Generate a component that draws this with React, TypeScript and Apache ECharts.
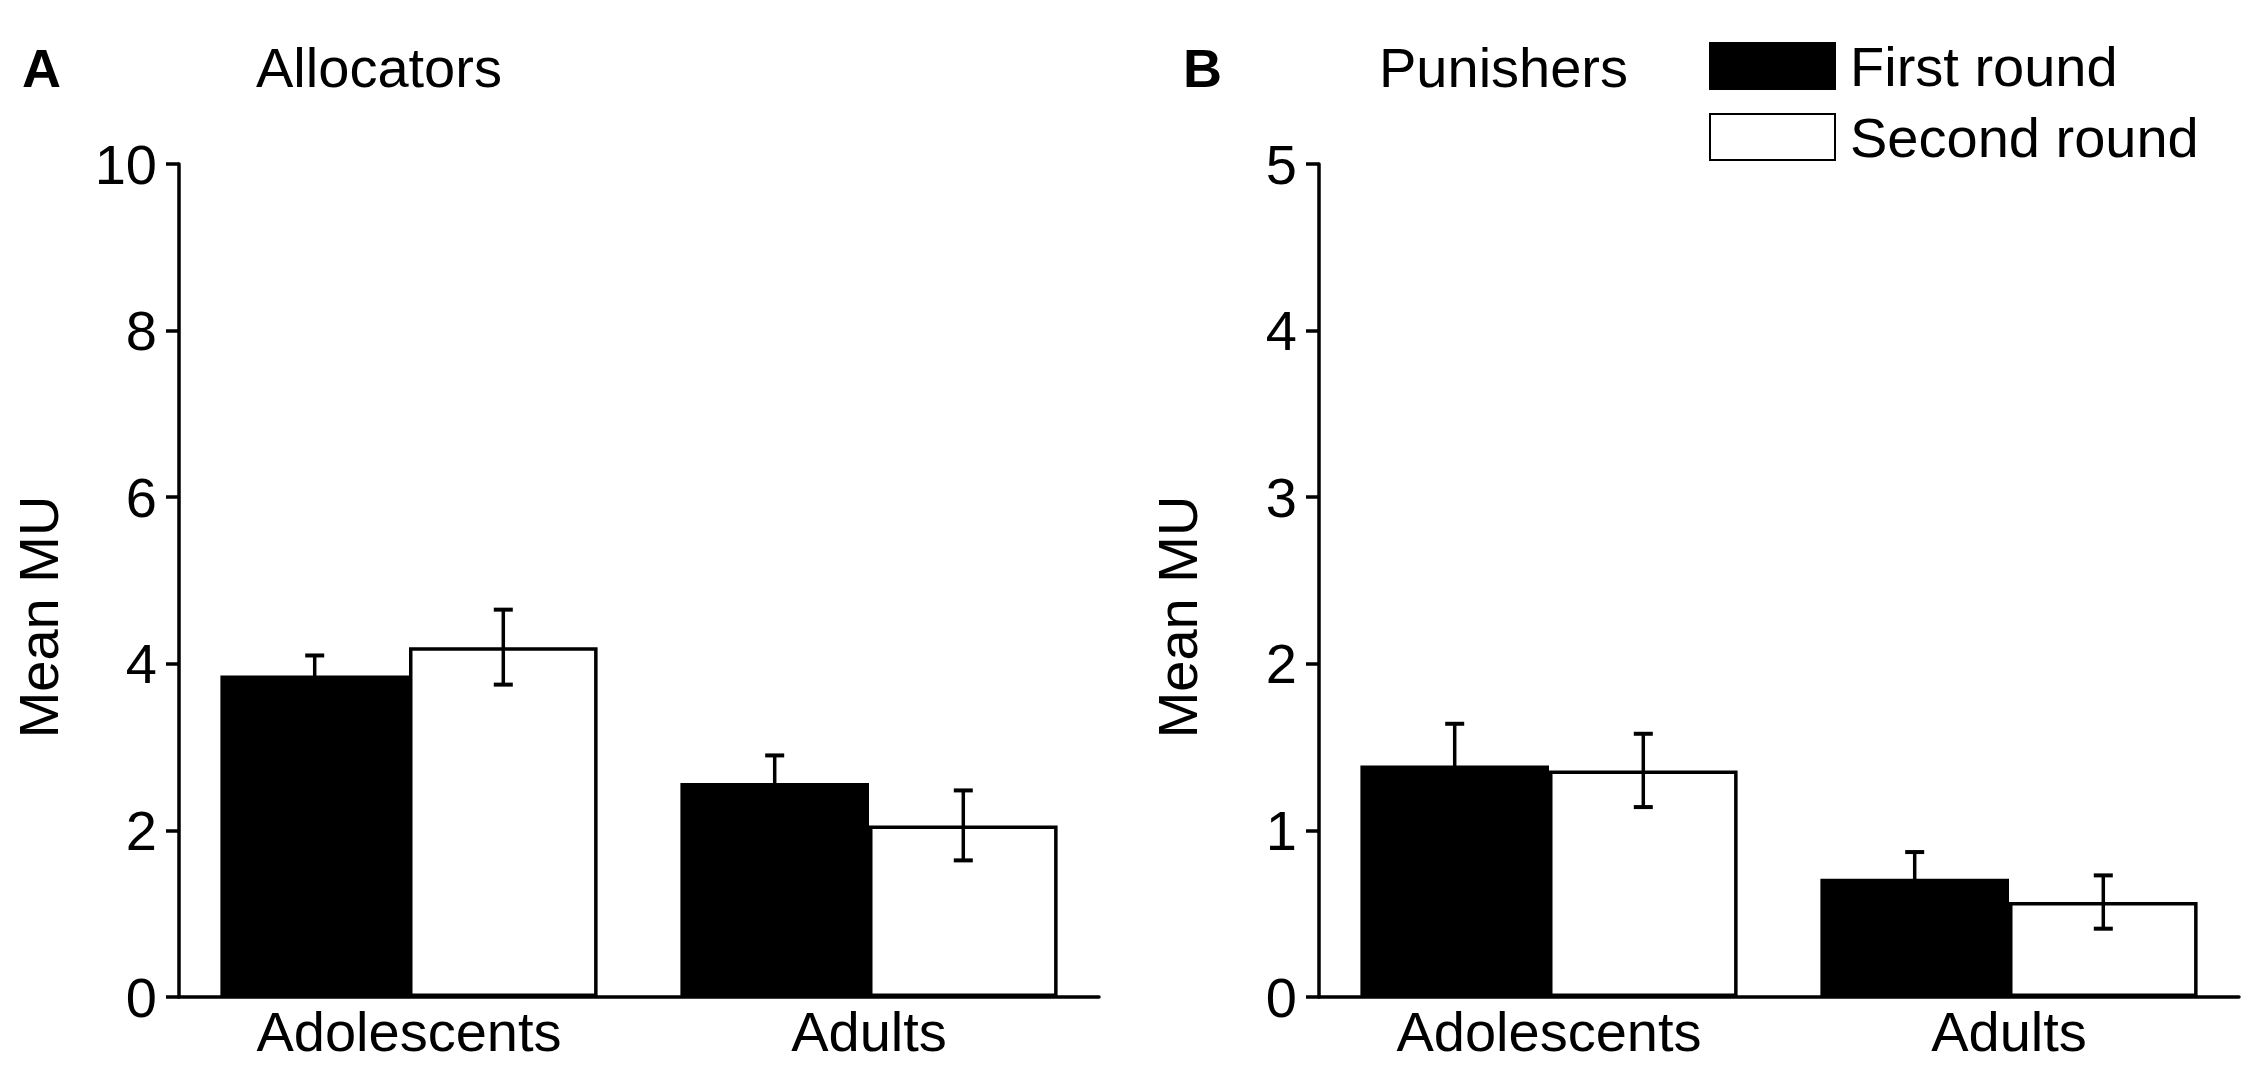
import React, { useEffect, useRef } from 'react';
import * as echarts from 'echarts';

const categories = ['Adolescents', 'Adults'];
const seriesNames = ['First round', 'Second round'];

const allocFirst = [3.86, 2.57];
const allocFirstErr = [0.24, 0.33];
const allocSecond = [4.2, 2.06];
const allocSecondErr = [0.45, 0.42];

const punFirst = [1.39, 0.71];
const punFirstErr = [0.25, 0.16];
const punSecond = [1.36, 0.57];
const punSecondErr = [0.22, 0.16];

const allocAxis = { min: 0, max: 10, interval: 2 };
const punAxis = { min: 0, max: 5, interval: 1 };

const FONT = "'Liberation Sans', Arial, sans-serif";
const CAT_GAP = 0.18;

function errRender(side: number) {
  return (params: any, api: any) => {
    const ci = api.value(0);
    const v = api.value(1);
    const e = api.value(2);
    const band = api.size([1, 0])[0];
    const bw = (band * (1 - CAT_GAP)) / 2;
    const x = api.coord([ci, v])[0] + (side * bw) / 2;
    const yTop = api.coord([ci, v + e])[1];
    const yBot = api.coord([ci, v - e])[1];
    const cap = 9.5;
    const style = { stroke: '#000', lineWidth: 3.5 };
    const capStyle = { stroke: '#000', lineWidth: 4 };
    return {
      type: 'group',
      children: [
        { type: 'line', shape: { x1: x, y1: yTop, x2: x, y2: yBot }, style },
        { type: 'line', shape: { x1: x - cap, y1: yTop, x2: x + cap, y2: yTop }, style: capStyle },
        { type: 'line', shape: { x1: x - cap, y1: yBot, x2: x + cap, y2: yBot }, style: capStyle },
      ],
    };
  };
}

function panelSeries(idx: number, first: number[], firstErr: number[], second: number[], secondErr: number[]) {
  return [
    {
      name: seriesNames[0],
      type: 'bar',
      xAxisIndex: idx,
      yAxisIndex: idx,
      data: first,
      barGap: '0%',
      barCategoryGap: CAT_GAP * 100 + '%',
      itemStyle: { color: '#000', borderColor: '#000', borderWidth: 3.5 },
    },
    {
      name: seriesNames[1],
      type: 'bar',
      xAxisIndex: idx,
      yAxisIndex: idx,
      data: second,
      barGap: '0%',
      barCategoryGap: CAT_GAP * 100 + '%',
      itemStyle: { color: '#fff', borderColor: '#000', borderWidth: 3.5 },
    },
    {
      type: 'custom',
      xAxisIndex: idx,
      yAxisIndex: idx,
      z: 10,
      renderItem: errRender(-1),
      data: first.map((v, i) => [i, v, firstErr[i]]),
    },
    {
      type: 'custom',
      xAxisIndex: idx,
      yAxisIndex: idx,
      z: 10,
      renderItem: errRender(1),
      data: second.map((v, i) => [i, v, secondErr[i]]),
    },
  ];
}

const axisLine = { show: true, lineStyle: { color: '#000', width: 3.5 } };

function xAxis(idx: number) {
  return {
    type: 'category',
    gridIndex: idx,
    data: categories,
    axisLine,
    axisTick: { show: false },
    axisLabel: { color: '#000', fontSize: 56, fontFamily: FONT, margin: 6 },
  };
}

function yAxis(idx: number, cfg: { min: number; max: number; interval: number }) {
  return {
    type: 'value',
    gridIndex: idx,
    min: cfg.min,
    max: cfg.max,
    interval: cfg.interval,
    axisLine,
    axisTick: { show: true, length: 13, lineStyle: { color: '#000', width: 3.5 } },
    splitLine: { show: false },
    axisLabel: { color: '#000', fontSize: 56, fontFamily: FONT, margin: 22 },
  };
}

function txt(text: string, x: number, y: number, extra: any = {}) {
  return {
    type: 'text',
    x,
    y,
    ...(extra.rotation !== undefined ? { rotation: extra.rotation } : {}),
    style: {
      text,
      fill: '#000',
      fontSize: extra.fontSize || 56,
      fontWeight: extra.fontWeight || 'normal',
      fontFamily: FONT,
      align: extra.align || 'left',
      verticalAlign: 'middle',
    },
  };
}

export default function App() {
  const ref = useRef<HTMLDivElement>(null);
  useEffect(() => {
    if (!ref.current) return;
    const chart = echarts.init(ref.current, null, { renderer: 'svg' });
    chart.setOption({
      animation: false,
      backgroundColor: '#fff',
      grid: [
        { left: 179, top: 164, width: 920, height: 833 },
        { left: 1319, top: 164, width: 920, height: 833 },
      ],
      xAxis: [xAxis(0), xAxis(1)],
      yAxis: [yAxis(0, allocAxis), yAxis(1, punAxis)],
      legend: {
        data: seriesNames,
        orient: 'vertical',
        left: 1704,
        top: 33,
        itemWidth: 125,
        itemHeight: 46,
        itemGap: 15,
        selectedMode: false,
        icon: 'rect',
        textStyle: { color: '#000', fontSize: 56, fontFamily: FONT, lineHeight: 46, padding: [0, 0, 0, 10] },
      },
      graphic: [
        txt('A', 22, 68, { fontWeight: 'bold', fontSize: 54 }),
        txt('Allocators', 256, 67),
        txt('B', 1183, 68, { fontWeight: 'bold', fontSize: 54 }),
        txt('Punishers', 1379, 67),
        txt('Mean MU', 38, 617, { rotation: Math.PI / 2, align: 'center' }),
        txt('Mean MU', 1177, 617, { rotation: Math.PI / 2, align: 'center' }),
      ],
      series: [
        ...panelSeries(0, allocFirst, allocFirstErr, allocSecond, allocSecondErr),
        ...panelSeries(1, punFirst, punFirstErr, punSecond, punSecondErr),
      ],
    });
    return () => chart.dispose();
  }, []);
  return (
    <div
      ref={ref}
      style={{ position: 'fixed', left: 0, top: 0, width: 2250, height: 1070, background: '#fff' }}
    />
  );
}
